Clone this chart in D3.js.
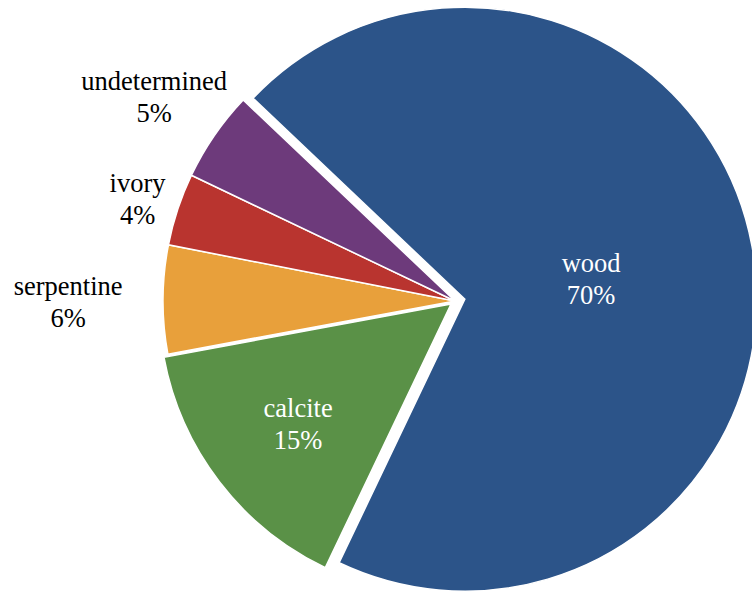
<!DOCTYPE html>
<html>
<head>
<meta charset="utf-8">
<script src="https://cdn.jsdelivr.net/npm/d3@7/dist/d3.min.js"></script>
<style>
  html, body { margin: 0; padding: 0; background: #ffffff; }
  svg { display: block; }
</style>
</head>
<body>
<script>
// ---- data ----
const categories = ["wood", "calcite", "serpentine", "ivory", "undetermined"];
const values = [70, 15, 6, 4, 5];
const percentLabels = ["70%", "15%", "6%", "4%", "5%"];

// ---- style / layout ----
const colors = ["#2c5489", "#5a9147", "#e8a03b", "#b9342f", "#6d3a7b"];
const explode = [10, 5, 0, 0, 0];              // px offset along slice mid-angle
const labelRadiusFactor = [0.44, 0.66, 1.325, 1.145, 1.25];
const labelInside = [true, true, false, false, false];

const W = 752, H = 592;
const cx = 455, cy = 301, R = 292;
const startDeg = 313.5;

const svg = d3.select("body").append("svg")
  .attr("width", W).attr("height", H);

const pie = d3.pie()
  .sort(null)
  .value(d => d.value)
  .startAngle(startDeg * Math.PI / 180)
  .endAngle(startDeg * Math.PI / 180 + 2 * Math.PI);

const data = categories.map((c, i) => ({ name: c, value: values[i], pct: percentLabels[i], i }));
const arcs = pie(data);

const arc = d3.arc().innerRadius(0).outerRadius(R);

const g = svg.append("g").attr("transform", `translate(${cx},${cy})`);

function offset(d) {
  const mid = (d.startAngle + d.endAngle) / 2;
  const e = explode[d.data.i];
  return [Math.sin(mid) * e, -Math.cos(mid) * e];
}

const slices = g.selectAll("g.slice").data(arcs).join("g")
  .attr("class", "slice")
  .attr("transform", d => { const o = offset(d); return `translate(${o[0]},${o[1]})`; });

slices.append("path")
  .attr("d", arc)
  .attr("fill", d => colors[d.data.i])
  .attr("stroke", "#ffffff")
  .attr("stroke-width", 1.5)
  .attr("stroke-linejoin", "miter");

const lineH = 32;
slices.each(function(d) {
  const sel = d3.select(this);
  const mid = (d.startAngle + d.endAngle) / 2;
  const lr = R * labelRadiusFactor[d.data.i];
  const x = Math.sin(mid) * lr, y = -Math.cos(mid) * lr;
  const t = sel.append("text")
    .attr("x", x).attr("y", y)
    .attr("text-anchor", "middle")
    .attr("font-family", "'Liberation Serif', 'Times New Roman', serif")
    .attr("font-size", 26.5)
    .attr("fill", labelInside[d.data.i] ? "#ffffff" : "#000000");
  t.append("tspan").attr("x", x).attr("dy", -lineH / 2 + 12).text(d.data.name);
  t.append("tspan").attr("x", x).attr("dy", lineH).text(d.data.pct);
});
</script>
</body>
</html>
